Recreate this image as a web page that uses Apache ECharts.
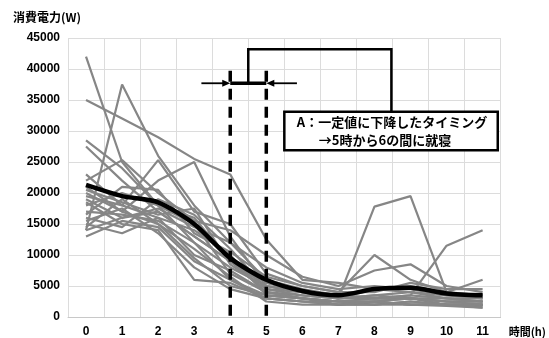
<!DOCTYPE html>
<html><head><meta charset="utf-8">
<script src="https://cdn.jsdelivr.net/npm/echarts@6/dist/echarts.min.js"></script>
<style>html,body{margin:0;padding:0;background:#fff}#c{width:549px;height:338px}</style>
</head><body><div id="c"></div>
<script>
const hours = ['0','1','2','3','4','5','6','7','8','9','10','11'];
const yTicks = [0,5000,10000,15000,20000,25000,30000,35000,40000,45000];
const avg = [21300,19500,18500,15000,9500,6000,4200,3500,4500,4700,3800,3500];
const h01 = [42000,25000,18000,16000,9000,4000,3000,2500,2500,2000,2000,2000];
const h02 = [35000,32000,29000,25500,23000,12500,6000,5500,4500,4000,3000,3000];
const h03 = [14000,37500,26000,18000,12000,6000,4500,3500,3000,3000,2500,2500];
const h04 = [28500,24000,18000,12000,8000,5000,4000,3000,17800,19500,4000,3000];
const h05 = [27500,22000,17000,13000,9000,5500,4000,3500,3000,3500,11500,14000];
const h06 = [23000,18000,25300,17000,15000,7000,5000,4000,10000,6000,4000,3500];
const h07 = [22000,25300,20000,15500,14000,10000,6500,5000,7500,8500,5000,4000];
const h08 = [20000,17000,22000,25000,13000,5000,4000,3000,4500,5000,4000,6000];
const h09 = [19500,18000,16000,14000,10000,3500,3000,2500,2500,3000,2000,2000];
const h10 = [19000,16000,17000,13000,9000,5000,4000,3000,3000,3500,3000,2500];
const h11 = [18500,15000,14000,6000,5500,3000,2500,2000,2000,2000,2000,1500];
const h12 = [18000,20000,18000,15000,7000,4000,3500,3000,3500,4000,3500,3000];
const h13 = [17000,16500,15500,12000,6000,3500,3000,2500,3000,3000,2500,2500];
const h14 = [16000,14500,19000,16500,11000,4500,4000,3500,3000,3000,2500,2500];
const h15 = [15500,17500,13500,8000,4500,3000,2500,2500,2000,2500,2000,2000];
const h16 = [15000,13500,16000,10000,7500,4000,3000,2000,2000,2500,2000,1800];
const h17 = [14500,19000,15000,11000,6500,2500,2000,2000,2500,2000,1800,1500];
const h18 = [14000,16000,17500,14500,12000,8000,5500,4500,5000,4500,3500,3500];
const h19 = [13000,15500,14500,9000,6000,3000,2500,2000,2500,2000,2000,2000];
const h20 = [20500,18500,16500,17500,8500,4500,3500,3000,3500,3000,3000,2500];
const h21 = [16500,21000,20500,13500,10500,6500,5000,4000,4000,5500,4500,4500];
const h22 = [21000,17000,15000,9500,5000,3500,3000,2500,2500,3000,2500,2000];
const households = [h01,h02,h03,h04,h05,h06,h07,h08,h09,h10,h11,h12,h13,h14,h15,h16,h17,h18,h19,h20,h21,h22];
const noteLine1 = 'A：一定値に下降したタイミング';
const noteLine2 = '→5時から6の間に就寝';

const chart = echarts.init(document.getElementById('c'), null, {renderer:'canvas'});
const font = 'Liberation Sans, Arial, sans-serif';
const series = households.map(d => ({
  type:'line', data:d, xAxisIndex:0, yAxisIndex:0, symbol:'none',
  lineStyle:{color:'#868686', width:2.2}, z:2, silent:true
}));
series.push({
  type:'line', data:avg, symbol:'none', smooth:0.25, xAxisIndex:0, yAxisIndex:0,
  lineStyle:{color:'#000', width:4.5}, z:5
});
// annotation drawn in data space on the hidden value x-axis
series.push({
  type:'custom', xAxisIndex:1, yAxisIndex:0, z:10, silent:true,
  data:[[0,0]],
  renderItem:function(params, api){
    const c = (x,y)=>api.coord([x,y]);
    const ch = [];
    [4,5].forEach(x=>{
      const a=c(x,39700), b=c(x,0);
      ch.push({type:'line', shape:{x1:a[0],y1:a[1],x2:b[0],y2:b[1]},
        style:{stroke:'#000', lineWidth:3.5, lineDash:[11,7]}});
    });
    const ay = 37700;
    const l0=c(3.2,ay), l1=c(4,ay), r0=c(5.85,ay), r1=c(5,ay);
    ch.push({type:'line', shape:{x1:l0[0],y1:l0[1],x2:l1[0]-6,y2:l1[1]}, style:{stroke:'#000',lineWidth:1.8}});
    ch.push({type:'polygon', shape:{points:[[l1[0],l1[1]],[l1[0]-8,l1[1]-3.5],[l1[0]-8,l1[1]+3.5]]}, style:{fill:'#000'}});
    ch.push({type:'line', shape:{x1:r0[0],y1:r0[1],x2:r1[0]+6,y2:r1[1]}, style:{stroke:'#000',lineWidth:1.8}});
    ch.push({type:'polygon', shape:{points:[[r1[0],r1[1]],[r1[0]+8,r1[1]-3.5],[r1[0]+8,r1[1]+3.5]]}, style:{fill:'#000'}});
    ch.push({type:'line', shape:{x1:l1[0],y1:l1[1],x2:r1[0],y2:r1[1]}, style:{stroke:'#000',lineWidth:3.5}});
    const p1=c(4.5,ay), p2=c(4.5,43200), p3=c(8.47,43200), p4=c(8.47,33100);
    ch.push({type:'polyline', shape:{points:[p1,p2,p3,p4]}, style:{stroke:'#000',lineWidth:2.5,fill:null}});
    const b0=c(5.5,33100), b1=c(11.42,26900);
    ch.push({type:'rect', shape:{x:b0[0],y:b0[1],width:b1[0]-b0[0],height:b1[1]-b0[1]},
      style:{fill:'#fff', stroke:'#000', lineWidth:2.5}});
    const cx=(b0[0]+b1[0])/2;
    ch.push({type:'text', x:cx+1, y:b0[1]+10, style:{text:noteLine1, fill:'#000', align:'center', verticalAlign:'middle',
      font:'bold 13px "Noto Sans CJK JP", sans-serif'}});
    ch.push({type:'text', x:cx-6, y:b0[1]+28, style:{text:noteLine2, fill:'#000', align:'center', verticalAlign:'middle',
      font:'bold 13px "Noto Sans CJK JP", sans-serif'}});
    return {type:'group', children:ch};
  }
});

chart.setOption({
  animation:false,
  backgroundColor:'#fff',
  grid:{left:68, right:48, top:38, bottom:21, containLabel:false},
  graphic:[{type:'text', left:13, top:11, style:{text:'消費電力(W)', fill:'#000',
    font:'bold 12px "Noto Sans CJK JP", sans-serif'}}],
  xAxis:[{
    type:'category', data:hours, boundaryGap:true,
    axisLine:{show:true, lineStyle:{color:'#c8c8c8', width:1}},
    axisTick:{show:false},
    splitLine:{show:true, lineStyle:{color:'#dcdcdc', width:1}},
    axisLabel:{color:'#000', fontWeight:'bold', fontSize:12, fontFamily:font, margin:9, interval:0},
    name:'時間(h)', nameLocation:'end', nameGap:8,
    nameTextStyle:{color:'#000', fontWeight:'bold', fontSize:11, fontFamily:'"Noto Sans CJK JP", sans-serif', verticalAlign:'top', padding:[9,0,0,0]}
  },{
    type:'value', min:-0.5, max:11.5, show:false
  }],
  yAxis:{
    type:'value', min:yTicks[0], max:yTicks[yTicks.length-1], interval:5000,
    axisLine:{show:false}, axisTick:{show:false},
    splitLine:{show:true, lineStyle:{color:'#dcdcdc', width:1}},
    axisLabel:{color:'#000', fontWeight:'bold', fontSize:12, fontFamily:font, margin:8, formatter:v=>String(v)}
  },
  series:series
});
</script></body></html>
